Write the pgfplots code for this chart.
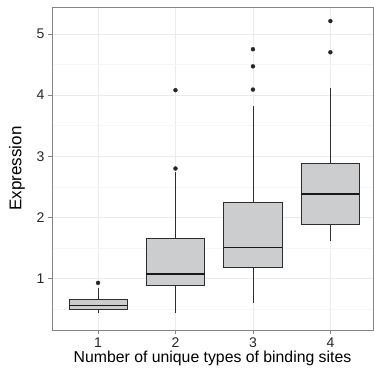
\documentclass[border=0pt]{standalone}
\usepackage{fontspec}
\setmainfont{Liberation Sans}
\usepackage{pgfplots}
\pgfplotsset{compat=1.18}
\usepgfplotslibrary{statistics}
\definecolor{boxgray}{HTML}{CCCDCF}
\definecolor{gridmaj}{HTML}{EBEBEB}
\definecolor{gridmin}{HTML}{F5F5F5}
\definecolor{border}{HTML}{858585}
\pgfplotsset{
  boxstyle/.style={
    draw=black!82, line width=0.8pt,
    boxplot/draw direction=y,
    mark=*, mark size=2pt, mark options={solid, fill=black!85, draw=black!85, line width=0.3pt},
    boxplot/box extend=0.75,
    boxplot/every box/.style={fill=boxgray, draw=black!82},
    boxplot/every median/.style={line width=1.8pt, draw=black!90},
    boxplot/draw/lower whisker/.code={\draw[/pgfplots/boxplot/every whisker/.try] (boxplot cs:\pgfplotsboxplotvalue{lower quartile}) -- (boxplot cs:\pgfplotsboxplotvalue{lower whisker});},
    boxplot/draw/upper whisker/.code={\draw[/pgfplots/boxplot/every whisker/.try] (boxplot cs:\pgfplotsboxplotvalue{upper quartile}) -- (boxplot cs:\pgfplotsboxplotvalue{upper whisker});},
  }
}
\begin{document}
\begin{tikzpicture}
\begin{axis}[
  scale only axis, width=321pt, height=323pt,
  xmin=0.406, xmax=4.55, ymin=0.16, ymax=5.44,
  xtick={1,2,3,4}, ytick={1,2,3,4,5},
  minor ytick={0.5,1.5,2.5,3.5,4.5},
  grid=both,
  major grid style={gridmaj, line width=0.8pt},
  minor grid style={gridmin, line width=0.6pt},
  axis line style={border, line width=0.8pt},
  tick style={border, line width=0.8pt},
  tick align=outside, major tick length=4pt, minor tick length=0pt,
  xtick pos=bottom, ytick pos=left,
  /pgf/number format/assume math mode=true,
  ticklabel style={font=\fontsize{14}{16}\selectfont, text=black!85},
  xlabel={Number of unique types of binding sites},
  ylabel={Expression},
  every axis x label/.style={at={(axis description cs:0.5,-0.101)}, anchor=base, font=\fontsize{15.8}{18}\selectfont},
  every axis y label/.style={at={(axis description cs:-0.109,0.5)}, anchor=center, rotate=90, font=\fontsize{17}{19}\selectfont},
]
\addplot[boxstyle, boxplot prepared={draw position=1, lower whisker=0.43, lower quartile=0.49, median=0.56, upper quartile=0.66, upper whisker=0.85}] table[row sep=\\, y index=0] {0.93\\};
\addplot[boxstyle, boxplot prepared={draw position=2, lower whisker=0.43, lower quartile=0.89, median=1.07, upper quartile=1.66, upper whisker=2.75}] table[row sep=\\, y index=0] {2.80\\4.08\\};
\addplot[boxstyle, boxplot prepared={draw position=3, lower whisker=0.60, lower quartile=1.18, median=1.51, upper quartile=2.25, upper whisker=3.82}] table[row sep=\\, y index=0] {4.09\\4.47\\4.75\\};
\addplot[boxstyle, boxplot prepared={draw position=4, lower whisker=1.62, lower quartile=1.88, median=2.38, upper quartile=2.89, upper whisker=4.12}] table[row sep=\\, y index=0] {4.70\\5.21\\};
\end{axis}
\pgfresetboundingbox
\path ([shift={(-52pt,-41pt)}]current axis.south west) rectangle ([shift={(1pt,7pt)}]current axis.north east);
\end{tikzpicture}
\end{document}
